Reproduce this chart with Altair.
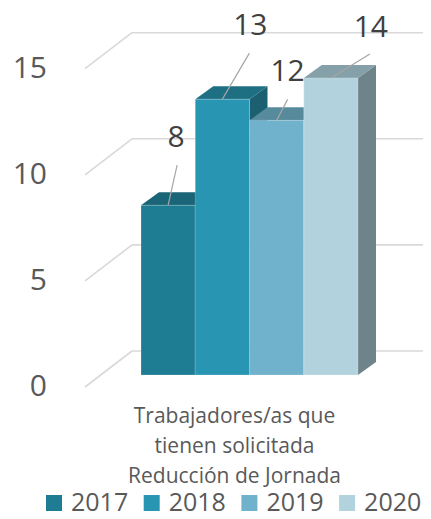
import altair as alt
import pandas as pd

# ---------------- data ----------------
years = ["2017", "2018", "2019", "2020"]
values = [8, 13, 12, 14]
tick_values = [0, 5, 10, 15]
category_text = "Trabajadores/as que\ntienen solicitada\nReducción de Jornada"

# ---------------- style ----------------
front_colors = ["#1f7d93", "#2896b3", "#70b1cb", "#b2d3de"]
top_colors = ["#1a6577", "#1f6f83", "#578b9c", "#86a0aa"]
side_colors = ["#175262", "#1b5f70", "#4d7e8d", "#6f838b"]
grid_color = "#d9d9d9"
text_color = "#595959"
FONT = "Open Sans"

W, H = 415, 503          # chart size in px
SLOT = 54.25             # px per bar slot
UNIT = 21.22             # px per value unit
X0, Y0 = 133, 367        # chart px of first bar left edge / baseline
x_dom = [-X0 / SLOT, (W - X0) / SLOT]
y_dom = [(Y0 - H) / UNIT, Y0 / UNIT]
xs = alt.Scale(domain=x_dom, nice=False, zero=False)
ys = alt.Scale(domain=y_dom, nice=False, zero=False)
color_scale = alt.Scale(domain=years, range=front_colors)

# 3D depth vectors (px -> data units)
DX, DY = 18 / SLOT, 13 / UNIT
WALL_FX, WALL_BX = -56 / SLOT, -9 / SLOT
WALL_FY, WALL_BY = -12 / UNIT, 24 / UNIT

# data label placement (px, relative to bar front-top centre)
label_dx = [8, 28, 11, 40]
label_up = [58, 64, 39, 41]
lead_dx = [9, 27, 11, 39]
lead_up = [40, 46, 21, 24]

# legend layout (px)
LEG_LEFT, LEG_STEP, LEG_SYM, LEG_GAP = 38, 97.7, 16, 9
LEG_BASE = 503           # chart px of legend text baseline

# ---------------- tables ----------------
grid = pd.DataFrame({
    "t": tick_values,
    "xf": [WALL_FX] * len(tick_values),
    "xb": [WALL_BX] * len(tick_values),
    "xr": [x_dom[1]] * len(tick_values),
    "yf": [t + WALL_FY for t in tick_values],
    "yb": [t + WALL_BY for t in tick_values],
    "lab": [str(t) for t in tick_values],
})

bars = pd.DataFrame({
    "year": years, "v": values,
    "x0": [i for i in range(len(years))],
    "x1": [i + 1 for i in range(len(years))],
    "xc": [i + 0.5 for i in range(len(years))],
    "zero": [0] * len(years),
})
bars["lx"] = bars["xc"] + [d / SLOT for d in label_dx]
bars["ly"] = bars["v"] + [u / UNIT for u in label_up]
bars["tx"] = bars["xc"] + [d / SLOT for d in lead_dx]
bars["ty"] = bars["v"] + [u / UNIT for u in lead_up]
bars["lab"] = [str(v) for v in values]

top_rows, side_rows = [], []
for i, (yr, v) in enumerate(zip(years, values)):
    top_rows.append({"year": yr, "y": v, "xa": i, "xb": i + 1, "c": top_colors[i]})
    top_rows.append({"year": yr, "y": v + DY, "xa": i + DX, "xb": i + 1 + DX, "c": top_colors[i]})
    side_rows.append({"year": yr, "x": i + 1, "ya": v, "yb": 0, "c": side_colors[i]})
    side_rows.append({"year": yr, "x": i + 1 + DX, "ya": v + DY, "yb": DY, "c": side_colors[i]})
tops = pd.DataFrame(top_rows)
sides = pd.DataFrame(side_rows)

cat = pd.DataFrame({"x": [(234.5 - 8 - X0) / SLOT], "y": [0], "t": [category_text]})

legend_df = pd.DataFrame({
    "year": years,
    "sx": [(LEG_LEFT + LEG_SYM / 2 + i * LEG_STEP - X0) / SLOT for i in range(len(years))],
    "tx": [(LEG_LEFT + LEG_SYM + LEG_GAP + i * LEG_STEP - X0) / SLOT for i in range(len(years))],
    "sy": [(Y0 - (LEG_BASE - LEG_SYM / 2)) / UNIT] * len(years),
    "ty": [(Y0 - LEG_BASE) / UNIT] * len(years),
})

# ---------------- layers ----------------
grid_diag = alt.Chart(grid).mark_rule(color=grid_color, strokeWidth=1.6).encode(
    x=alt.X("xf:Q", scale=xs, axis=None), x2="xb:Q",
    y=alt.Y("yf:Q", scale=ys, axis=None), y2="yb:Q")
grid_back = alt.Chart(grid).mark_rule(color=grid_color, strokeWidth=1.6).encode(
    x=alt.X("xb:Q", scale=xs, axis=None), x2="xr:Q",
    y=alt.Y("yb:Q", scale=ys, axis=None))
tick_text = alt.Chart(grid).mark_text(
    align="right", baseline="alphabetic", dx=-38, dy=9,
    font=FONT, fontSize=30, color=text_color).encode(
    x=alt.X("xf:Q", scale=xs, axis=None),
    y=alt.Y("yf:Q", scale=ys, axis=None), text="lab:N")

side_faces = alt.Chart(sides).mark_area(orient="vertical", interpolate="linear").encode(
    x=alt.X("x:Q", scale=xs, axis=None),
    y=alt.Y("ya:Q", scale=ys, axis=None, stack=None), y2="yb:Q",
    fill=alt.Fill("c:N", scale=None), detail="year:N")
top_faces = alt.Chart(tops).mark_area(orient="horizontal", interpolate="linear").encode(
    y=alt.Y("y:Q", scale=ys, axis=None),
    x=alt.X("xa:Q", scale=xs, axis=None, stack=None), x2="xb:Q",
    fill=alt.Fill("c:N", scale=None), detail="year:N")
front_faces = alt.Chart(bars).mark_rect(stroke="#ffffff", strokeWidth=0.6, strokeOpacity=0.35).encode(
    x=alt.X("x0:Q", scale=xs, axis=None), x2="x1:Q",
    y=alt.Y("v:Q", scale=ys, axis=None), y2="zero:Q",
    color=alt.Color("year:N", scale=color_scale, legend=None))
leaders = alt.Chart(bars).mark_rule(color="#a6a6a6", strokeWidth=1.2).encode(
    x=alt.X("xc:Q", scale=xs, axis=None), x2="tx:Q",
    y=alt.Y("v:Q", scale=ys, axis=None), y2="ty:Q")
data_text = alt.Chart(bars).mark_text(
    align="center", baseline="alphabetic", font=FONT, fontSize=30, color="#404040").encode(
    x=alt.X("lx:Q", scale=xs, axis=None),
    y=alt.Y("ly:Q", scale=ys, axis=None), text="lab:N")
cat_text = alt.Chart(cat).mark_text(
    align="center", baseline="alphabetic", dy=48, lineBreak="\n", lineHeight=30,
    font=FONT, fontSize=21, color=text_color).encode(
    x=alt.X("x:Q", scale=xs, axis=None),
    y=alt.Y("y:Q", scale=ys, axis=None), text="t:N")

legend_sym = alt.Chart(legend_df).mark_square(size=LEG_SYM ** 2, opacity=1, filled=True).encode(
    x=alt.X("sx:Q", scale=xs, axis=None),
    y=alt.Y("sy:Q", scale=ys, axis=None),
    color=alt.Color("year:N", scale=color_scale, legend=None))
legend_txt = alt.Chart(legend_df).mark_text(
    align="left", baseline="alphabetic", font=FONT, fontSize=25, color=text_color).encode(
    x=alt.X("tx:Q", scale=xs, axis=None),
    y=alt.Y("ty:Q", scale=ys, axis=None), text="year:N")

chart = alt.layer(
    grid_diag, grid_back, tick_text, side_faces, top_faces, front_faces,
    leaders, data_text, cat_text, legend_sym, legend_txt
).properties(
    width=W, height=H, padding=0,
    autosize=alt.AutoSizeParams(type="none")
).configure_view(stroke=None)

chart.save("out.html", embed_options={"renderer": "svg", "actions": False})
